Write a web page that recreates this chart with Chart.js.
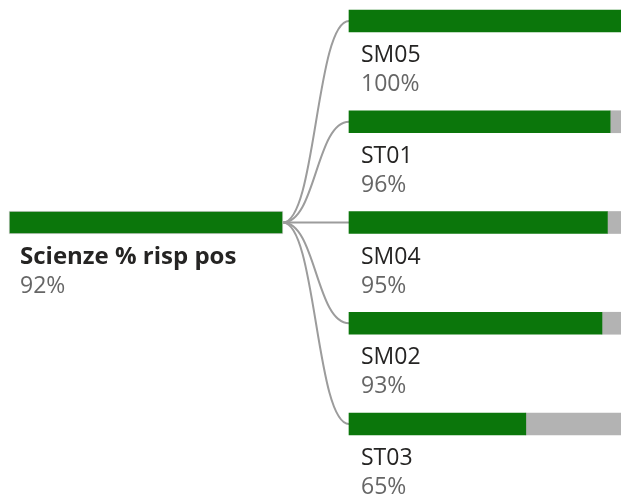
<!DOCTYPE html>
<html>
<head>
<meta charset="utf-8">
<script src="https://cdn.jsdelivr.net/npm/chart.js@4.4.1/dist/chart.umd.min.js"></script>
<style>
  html, body { margin: 0; padding: 0; background: #fff; }
  #tree { display: block; }
</style>
</head>
<body>
<canvas id="tree" width="621" height="496"></canvas>
<script>
// albero di scomposizione: nodo radice + figli
const rootName = "Scienze % risp pos";
const rootValue = 92;
const childNames = ["SM05", "ST01", "SM04", "SM02", "ST03"];
const childValues = [100, 96, 95, 93, 65];
const maxValue = 100;

const green = "#0b760b";
const rest = "#b3b3b3";
const fontFamily = '"Open Sans", "Noto Sans", sans-serif';

const rootIndex = Math.floor(childNames.length / 2);

// barra radice solo sulla riga centrale
const rootData = childNames.map((n, i) => (i === rootIndex ? [0, rootValue] : null));

// linee curve dalla radice verso ogni figlio + etichette
const treePlugin = {
  id: "treePlugin",
  beforeDatasetsDraw(chart) {
    const ctx = chart.ctx;
    const xr = chart.scales.xr;
    const xc = chart.scales.xc;
    const y = chart.scales.y;
    const sx = xr.getPixelForValue(rootValue);
    const sy = y.getPixelForValue(rootIndex);
    const ex = xc.getPixelForValue(0);
    const mx = (sx + ex) / 2;
    ctx.save();
    ctx.strokeStyle = "#9c9c9c";
    ctx.lineWidth = 2;
    childNames.forEach((n, i) => {
      const ey = y.getPixelForValue(i);
      ctx.beginPath();
      ctx.moveTo(sx, sy);
      ctx.bezierCurveTo(mx, sy, mx, ey, ex, ey);
      ctx.stroke();
    });
    ctx.restore();
  },
  afterDatasetsDraw(chart) {
    const ctx = chart.ctx;
    const xr = chart.scales.xr;
    const xc = chart.scales.xc;
    const y = chart.scales.y;
    ctx.save();
    ctx.textAlign = "left";
    ctx.textBaseline = "alphabetic";

    // radice
    const rx = xr.getPixelForValue(0) + 11;
    const ry = y.getPixelForValue(rootIndex);
    ctx.font = "bold 24px " + fontFamily;
    ctx.fillStyle = "#252423";
    ctx.fillText(rootName, rx, ry + 41);
    ctx.font = "23px " + fontFamily;
    ctx.fillStyle = "#666666";
    ctx.fillText(rootValue + "%", rx, ry + 70);

    // figli
    const cx = xc.getPixelForValue(0) + 12;
    childNames.forEach((n, i) => {
      const cy = y.getPixelForValue(i);
      ctx.font = "23px " + fontFamily;
      ctx.fillStyle = "#252423";
      ctx.fillText(n, cx, cy + 41);
      ctx.fillStyle = "#666666";
      ctx.fillText(childValues[i] + "%", cx, cy + 70);
    });
    ctx.restore();
  }
};

new Chart(document.getElementById("tree"), {
  type: "bar",
  data: {
    labels: childNames,
    datasets: [
      {
        label: rootName,
        data: rootData,
        xAxisID: "xr",
        backgroundColor: green,
        borderColor: "#d2d2d2",
        borderWidth: 1,
        borderSkipped: false,
        grouped: false,
        barThickness: 23,
        clip: false
      },
      {
        label: "valore",
        data: childValues.map(v => [0, v]),
        xAxisID: "xc",
        backgroundColor: green,
        grouped: false,
        barThickness: 22,
        clip: false
      },
      {
        label: "resto",
        data: childValues.map(v => [v, maxValue]),
        xAxisID: "xc",
        backgroundColor: rest,
        grouped: false,
        barThickness: 22,
        clip: false
      }
    ]
  },
  options: {
    indexAxis: "y",
    responsive: false,
    animation: false,
    events: [],
    layout: { padding: { left: 9, right: 0, top: 21, bottom: 72 } },
    plugins: {
      legend: { display: false },
      tooltip: { enabled: false }
    },
    scales: {
      y: { type: "category", offset: false, display: false },
      xr: { type: "linear", position: "bottom", min: 0, max: 205.5, display: false },
      xc: { type: "linear", position: "bottom", min: -125, max: maxValue, display: false }
    }
  },
  plugins: [treePlugin]
});
</script>
</body>
</html>
